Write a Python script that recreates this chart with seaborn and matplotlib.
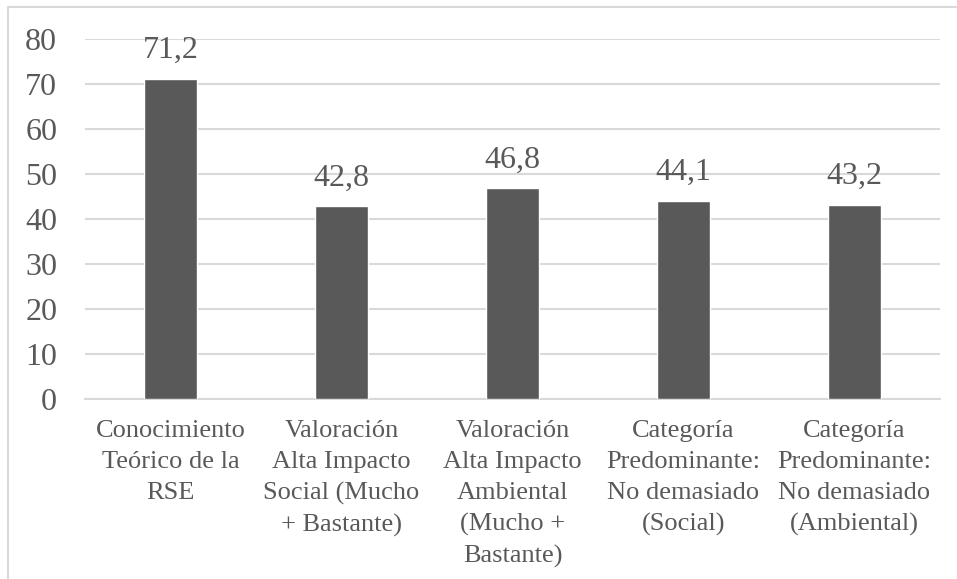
import matplotlib
matplotlib.use("Agg")
import matplotlib.pyplot as plt
from matplotlib.patches import Rectangle
import pandas as pd
import seaborn as sns

# Data
categories = [
    "Conocimiento\nTeórico de la\nRSE",
    "Valoración\nAlta Impacto\nSocial (Mucho\n+ Bastante)",
    "Valoración\nAlta Impacto\nAmbiental\n(Mucho +\nBastante)",
    "Categoría\nPredominante:\nNo demasiado\n(Social)",
    "Categoría\nPredominante:\nNo demasiado\n(Ambiental)",
]
values = [71.2, 42.8, 46.8, 44.1, 43.2]
y_ticks = [0, 10, 20, 30, 40, 50, 60, 70, 80]

BAR = "#595959"
TEXT = "#595959"
GRID = "#d9d9d9"

sns.set_style("white")
plt.rcParams["font.family"] = "serif"
plt.rcParams["font.serif"] = ["Liberation Serif", "Times New Roman", "DejaVu Serif"]

df = pd.DataFrame({"categoria": categories, "valor": values})

fig = plt.figure(figsize=(9.57, 5.79), dpi=100)
ax = fig.add_axes([85 / 957, 1 - 399 / 579, (940 - 85) / 957, (399 - 39) / 579])

sns.barplot(data=df, x="categoria", y="valor", color=BAR, width=0.31,
            saturation=1, ax=ax, zorder=3)

# Value labels with decimal comma
labels = [f"{v:.1f}".replace(".", ",") for v in values]
ax.bar_label(ax.containers[0], labels=labels, padding=10, fontsize=23,
             color=TEXT)

ax.set_ylim(0, 80)
ax.set_yticks(y_ticks)
ax.set_xlim(-0.5, len(categories) - 0.5)
ax.yaxis.grid(True, color=GRID, linewidth=1.5, zorder=0)
ax.set_axisbelow(True)
for side in ["top", "right", "left"]:
    ax.spines[side].set_visible(False)
ax.spines["bottom"].set_color(GRID)
ax.spines["bottom"].set_linewidth(1.5)

ax.tick_params(axis="y", length=0, pad=20, labelsize=23, labelcolor=TEXT)
ax.tick_params(axis="x", length=0, pad=15, labelsize=19, labelcolor=TEXT)
for lbl in ax.get_xticklabels():
    lbl.set_linespacing(1.52)
ax.set_xlabel("")
ax.set_ylabel("")

# Light chart-area border (cropped at right and bottom)
fig.patches.append(Rectangle((8 / 957, -0.2), 2, 1 - 7 / 579 + 0.2,
                             transform=fig.transFigure, fill=False,
                             edgecolor=GRID, linewidth=1.5))

fig.savefig("out.png", dpi=100)
